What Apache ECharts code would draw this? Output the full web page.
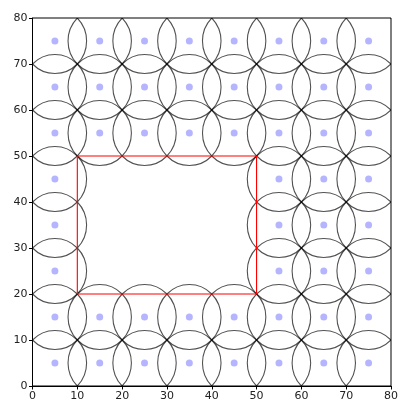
<!DOCTYPE html>
<html>
<head>
<meta charset="utf-8">
<script src="https://cdn.jsdelivr.net/npm/echarts@6/dist/echarts.min.js"></script>
<style>html,body{margin:0;padding:0;background:#fff}#c{width:401px;height:405px}</style>
</head>
<body>
<div id="c"></div>
<script>
// Data
const sensorX = [5,15,25,35,45,55,65,75, 5,15,25,35,45,55,65,75, 5,15,25,35,45,55,65,75,
                 5,55,65,75, 5,55,65,75, 5,55,65,75,
                 5,15,25,35,45,55,65,75, 5,15,25,35,45,55,65,75];
const sensorY = [75,75,75,75,75,75,75,75, 65,65,65,65,65,65,65,65, 55,55,55,55,55,55,55,55,
                 45,45,45,45, 35,35,35,35, 25,25,25,25,
                 15,15,15,15,15,15,15,15, 5,5,5,5,5,5,5,5];
const radius = 7.07;
const rectX = [10, 50, 50, 10, 10];
const rectY = [20, 20, 50, 50, 20];
const ticks = [0,10,20,30,40,50,60,70,80];

const points = sensorX.map((x, i) => [x, sensorY[i]]);
const rectPts = rectX.map((x, i) => [x, rectY[i]]);

const chart = echarts.init(document.getElementById('c'));
const axisCommon = {
  type: 'value', min: ticks[0], max: ticks[ticks.length - 1], interval: ticks[1] - ticks[0],
  axisLine: {show: true, onZero: false, lineStyle: {color: '#000', width: 1}},
  axisTick: {show: true, inside: false, length: 3.5, lineStyle: {color: '#000'}},
  axisLabel: {color: '#222', fontSize: 11, fontFamily: 'DejaVu Sans', margin: 5},
  splitLine: {show: false}
};
chart.setOption({
  animation: false,
  grid: {left: 32.5, right: 7.5, top: 18, bottom: 19, show: true, borderColor: '#000', borderWidth: 1, backgroundColor: 'transparent'},
  xAxis: Object.assign({}, axisCommon),
  yAxis: Object.assign({}, axisCommon),
  series: [
    {
      type: 'scatter', data: points, symbolSize: 7,
      itemStyle: {color: 'rgba(0,0,255,0.36)'}, z: 2
    },
    {
      type: 'custom', data: points, z: 3,
      renderItem: function (params, api) {
        const c = api.coord([api.value(0), api.value(1)]);
        const s = api.size([radius, radius]);
        const cs = params.coordSys;
        return {
          type: 'ellipse',
          shape: {cx: c[0], cy: c[1], rx: s[0], ry: s[1]},
          style: {fill: 'none', stroke: 'rgba(0,0,0,0.68)', lineWidth: 1.1},
          clipPath: {type: 'rect', shape: {x: cs.x, y: cs.y, width: cs.width, height: cs.height}}
        };
      }
    },
    {
      type: 'line', data: rectPts, symbol: 'none', z: 4,
      lineStyle: {color: '#ff0000', width: 1.1}
    }
  ]
});
</script>
</body>
</html>
